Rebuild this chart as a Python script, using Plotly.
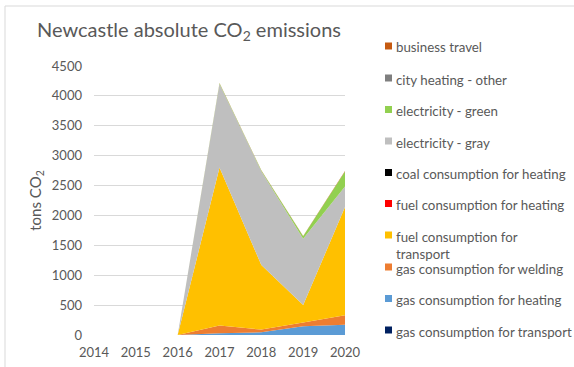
import plotly.graph_objects as go

# Reporting years
years = [2014, 2015, 2016, 2017, 2018, 2019, 2020]

# Emissions per source (tons CO2), listed from the bottom of the stack upwards
gas_transport = [0, 0, 0, 0, 0, 0, 0]
gas_heating = [0, 0, 0, 30, 45, 145, 170]
gas_welding = [0, 0, 0, 130, 45, 65, 160]
fuel_transport = [0, 0, 0, 2640, 1080, 290, 1810]
fuel_heating = [0, 0, 0, 0, 0, 0, 0]
coal_heating = [0, 0, 0, 0, 0, 0, 0]
electricity_gray = [0, 0, 0, 1400, 1570, 1110, 345]
electricity_green = [0, 0, 0, 10, 10, 40, 250]
city_heating_other = [0, 0, 0, 0, 0, 0, 0]
business_travel = [0, 0, 0, 5, 5, 5, 8]

y_ticks = [0, 500, 1000, 1500, 2000, 2500, 3000, 3500, 4000, 4500]

series = [
    ("gas consumption for transport", gas_transport, "#002060"),
    ("gas consumption for heating", gas_heating, "#5B9BD5"),
    ("gas consumption for welding", gas_welding, "#ED7D31"),
    ("fuel consumption for<br>transport", fuel_transport, "#FFC000"),
    ("fuel consumption for heating", fuel_heating, "#FF0000"),
    ("coal consumption for heating", coal_heating, "#000000"),
    ("electricity - gray", electricity_gray, "#BFBFBF"),
    ("electricity - green", electricity_green, "#92D050"),
    ("city heating - other", city_heating_other, "#7F7F7F"),
    ("business travel", business_travel, "#C55A11"),
]

FONT = "Lato"
TEXT = "#595959"
GRID = "#D9D9D9"

W, H = 574, 367
PX0, PX1, PY0, PY1 = 94, 345, 66, 335  # plot area in pixels


def px(x):
    return (x - PX0) / (PX1 - PX0)


def py(y):
    return (PY1 - y) / (PY1 - PY0)


fig = go.Figure()
for name, vals, color in series:
    fig.add_trace(go.Scatter(
        x=years, y=vals, name=name, stackgroup="one", mode="none",
        fillcolor=color, line=dict(width=0), showlegend=False,
    ))

shapes = []
annotations = []

# Legend: colored squares with labels, top entry = last stacked series
legend_rows = [46, 78, 109.5, 141, 172.5, 203.5, 235, 267, 298.5, 330]
for (name, vals, color), row in zip(reversed(series), legend_rows):
    shapes.append(dict(
        type="rect", xref="paper", yref="paper",
        x0=px(385), x1=px(392), y0=py(row + 3.5), y1=py(row - 3.5),
        fillcolor=color, line=dict(width=0),
    ))
    annotations.append(dict(
        xref="paper", yref="paper", x=px(394), y=py(row - 8.5),
        xanchor="left", yanchor="top", align="left", showarrow=False,
        text=name, font=dict(family=FONT, size=13.3, color=TEXT),
    ))

# Title
annotations.append(dict(
    xref="paper", yref="paper", x=px(35), y=py(31),
    xanchor="left", yanchor="middle", showarrow=False,
    text="Newcastle absolute CO<sub>2</sub> emissions",
    font=dict(family=FONT, size=20, color=TEXT),
))

# Chart frame edges
shapes.append(dict(type="line", xref="paper", yref="paper",
                   x0=px(5), x1=px(W + 5), y0=py(6), y1=py(6),
                   line=dict(color=GRID, width=1)))
shapes.append(dict(type="line", xref="paper", yref="paper",
                   x0=px(5), x1=px(5), y0=py(6), y1=py(H + 5),
                   line=dict(color=GRID, width=1)))

fig.update_layout(
    width=W, height=H,
    margin=dict(l=PX0, r=W - PX1, t=PY0, b=H - PY1),
    paper_bgcolor="white", plot_bgcolor="white",
    font=dict(family=FONT, size=13, color=TEXT),
    showlegend=False,
    shapes=shapes,
    annotations=annotations,
    xaxis=dict(
        range=[2014, 2020], tickvals=years, ticktext=[str(y) for y in years],
        showgrid=False, zeroline=False, showline=False,
        ticks="", ticklabelstandoff=8, automargin=False,
        tickfont=dict(family=FONT, size=13, color=TEXT),
    ),
    yaxis=dict(
        range=[0, 4500], tickvals=y_ticks,
        showgrid=True, gridcolor=GRID, gridwidth=1,
        zeroline=False, showline=False, ticks="", ticklabelstandoff=11,
        automargin=False,
        tickfont=dict(family=FONT, size=13, color=TEXT),
        title=dict(text="tons CO<sub>2</sub>", standoff=6,
                   font=dict(family=FONT, size=15, color=TEXT)),
    ),
)

fig.write_html("out.html")
